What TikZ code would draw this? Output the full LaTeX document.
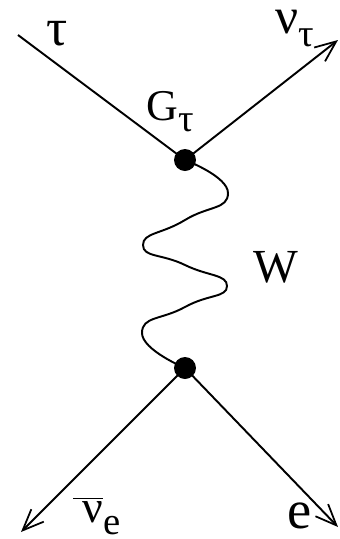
\documentclass[tikz,border=0pt]{standalone}
\usepackage{fontspec}
\setmainfont{Liberation Serif}
\usetikzlibrary{arrows.meta}
\newcommand{\lowsub}[1]{\raisebox{-0.27em}{\fontsize{22}{26}\selectfont #1}}
\tikzset{
  vertex/.style={circle,fill=black,inner sep=0pt,minimum size=0.44cm},
  fermion/.style={line width=1.1pt},
  outgoing/.style={fermion,-{Straight Barb[length=12pt,width=10pt,line width=1pt]}},
  boson/.style={line width=1.1pt},
  partname/.style={anchor=base west,inner sep=0pt}
}
\begin{document}
\begin{tikzpicture}[x=0.02cm,y=-0.02cm]
\useasboundingbox (0,0) rectangle (340,539);
% end points of the lines
\coordinate (tauin) at (18,35);
\coordinate (nuout) at (338,40);
\coordinate (nubarout) at (21,532);
\coordinate (eout) at (338,527);
% vertices
\node[vertex] (top) at (185,160) {};
\node[vertex] (bot) at (185,368) {};
% wave points
\coordinate (w1) at (228,193);
\coordinate (w2) at (185,220);
\coordinate (w3) at (143,245);
\coordinate (w4) at (185,265);
\coordinate (w5) at (227,286);
\coordinate (w6) at (185,307);
\coordinate (w7) at (142,333);
\draw[fermion] (tauin) -- (top.center);
\draw[outgoing] (top.center) -- (nuout);
\draw[boson] plot[smooth,tension=1] coordinates {(top.center) (w1) (w2) (w3) (w4) (w5) (w6) (w7) (bot.center)};
\draw[outgoing] (bot.center) -- (nubarout);
\draw[outgoing] (bot.center) -- (eout);
% labels
\node[partname,font=\fontsize{30}{34}\selectfont] (taulbl) at (46,45) {τ};
\node[partname,font=\fontsize{29}{34}\selectfont] (nutaulbl) at (275,33) {ν\lowsub{τ}};
\node[partname,font=\fontsize{25}{30}\selectfont] (glbl) at (146,120) {G\lowsub{τ}};
\node[partname,font=\fontsize{27}{32}\selectfont] (wlbl) at (253,282) {W};
\node[partname,font=\fontsize{26}{30}\selectfont] (nubarlbl) at (73,522) {$\overline{\mbox{\hspace{0.2em}ν}}$\lowsub{e}};
\node[partname,font=\fontsize{31}{36}\selectfont] (elbl) at (287,528) {e};
\end{tikzpicture}
\end{document}
